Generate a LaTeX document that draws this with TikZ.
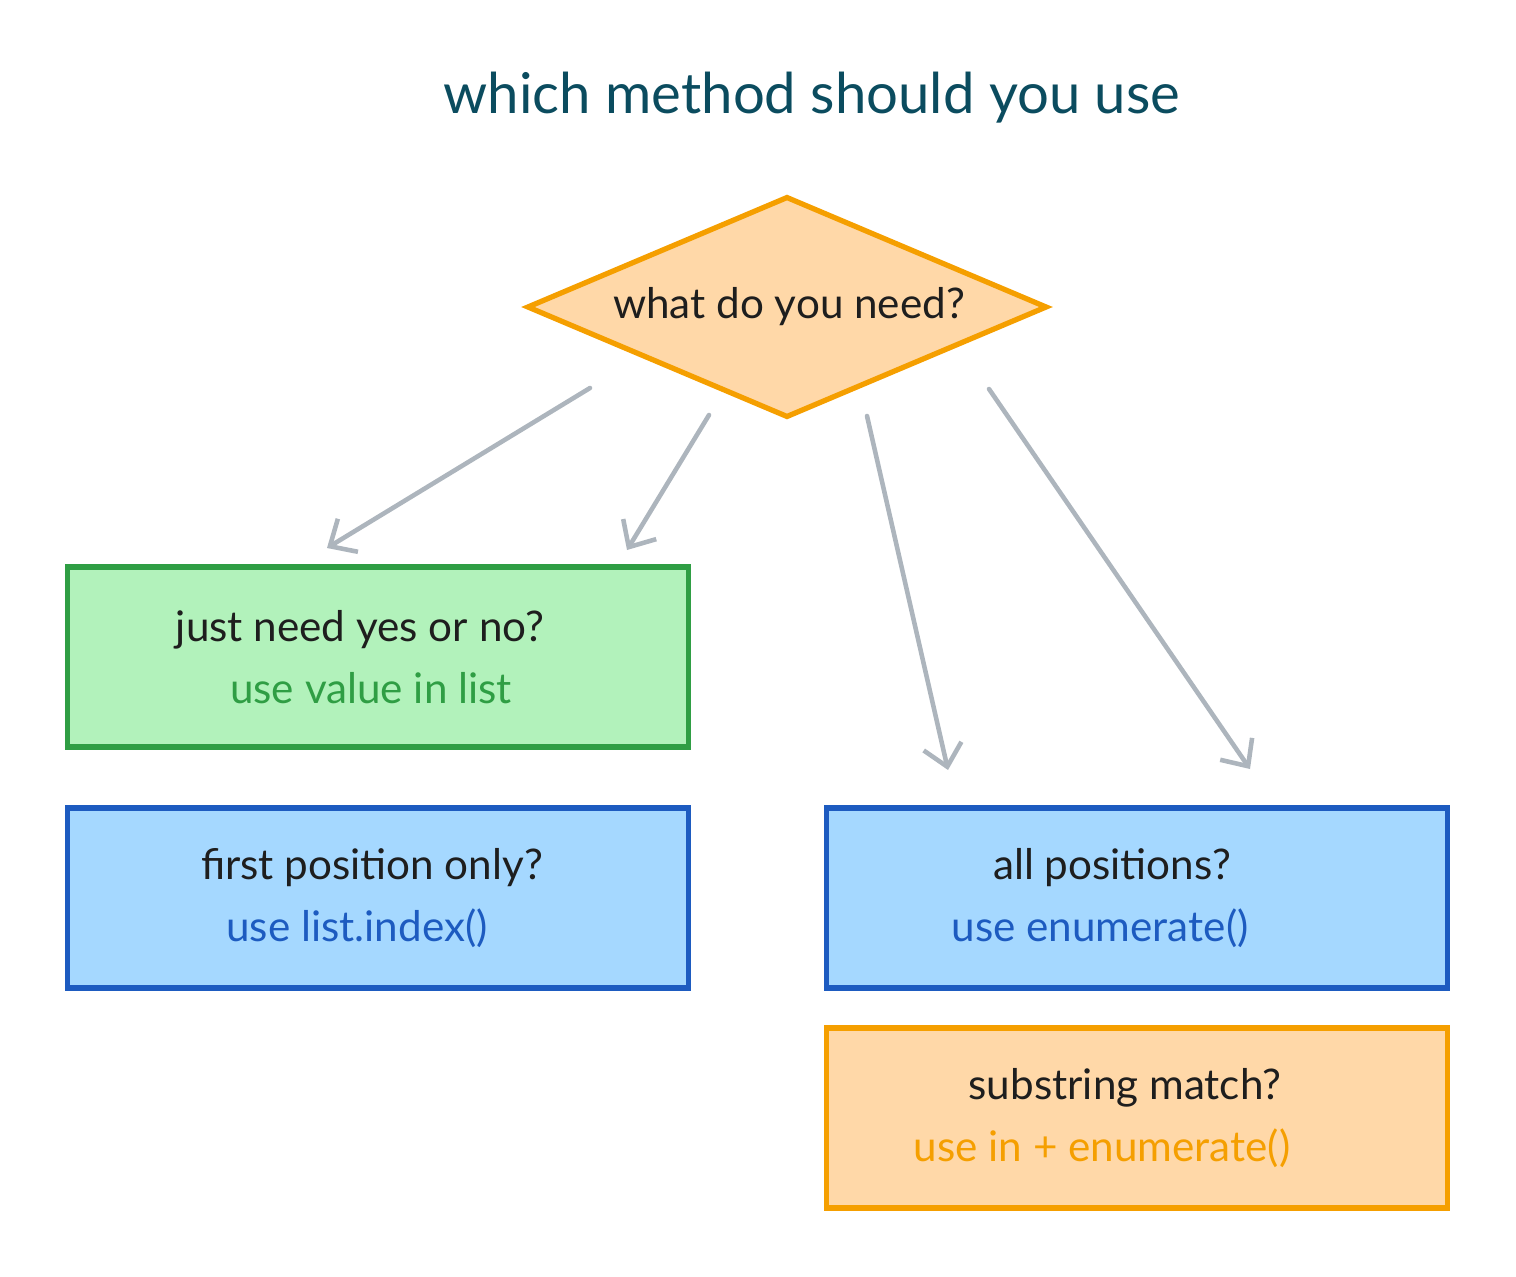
\documentclass[tikz,border=0pt]{standalone}
\usepackage{fontspec}
\setmainfont{Lato}
\usetikzlibrary{shapes.geometric,arrows.meta}

\definecolor{titleteal}{HTML}{0B4C5F}
\definecolor{linkgray}{HTML}{ADB5BD}
\definecolor{greenline}{HTML}{2F9E44}
\definecolor{greenfill}{HTML}{B2F2BB}
\definecolor{blueline}{HTML}{1D5BC0}
\definecolor{bluefill}{HTML}{A5D8FF}
\definecolor{orangeline}{HTML}{F59F00}
\definecolor{orangefill}{HTML}{FFD8A8}
\definecolor{inkblack}{HTML}{1E1E1E}

\tikzset{
  box/.style={draw, line width=1.5pt, minimum width=6.21cm, minimum height=1.8cm, inner sep=0pt},
  question/.style={text=inkblack, font=\fontsize{12}{14}\selectfont},
  answer/.style={font=\fontsize{12}{14}\selectfont},
  link/.style={draw=linkgray, line width=1.3pt, line cap=round, -{Straight Barb[length=6pt,width=11pt,line width=1.3pt]}}
}

\begin{document}
\begin{tikzpicture}[x=0.01cm, y=-0.01cm]
\useasboundingbox (0,0) rectangle (1516,1276);

\node[text=titleteal, font=\fontsize{16}{19}\selectfont] (title) at (812,98) {which method should you use};

\node[diamond, draw=orangeline, fill=orangefill, line width=1.5pt, aspect=2.35,
      minimum width=5.2cm, minimum height=2.21cm, inner sep=1pt] (need) at (787,307) {};
\node[question] (needq) at (789,307) {what do you need?};

\node[box, draw=greenline, fill=greenfill] (yesno) at (378,657) {};
\node[question] (yesnoq) at (360,630) {just need yes or no?};
\node[answer, text=greenline] (yesnoa) at (371,688) {use value in list};

\node[box, draw=blueline, fill=bluefill] (first) at (378,898) {};
\node[question] (firstq) at (372,868) {first position only?};
\node[answer, text=blueline] (firsta) at (357,928) {use list.index()};

\node[box, draw=blueline, fill=bluefill] (allpos) at (1137,898) {};
\node[question] (allposq) at (1112,868) {all positions?};
\node[answer, text=blueline] (allposa) at (1100,928) {use enumerate()};

\node[box, draw=orangeline, fill=orangefill] (substr) at (1137,1118) {};
\node[question] (substrq) at (1125,1088) {substring match?};
\node[answer, text=orangeline] (substra) at (1102,1148) {use in + enumerate()};

\coordinate (from1) at (590,388);
\coordinate (to1) at (327,548);
\coordinate (from2) at (709,415);
\coordinate (to2) at (627,550);
\coordinate (from3) at (867,416);
\coordinate (to3) at (948,770);
\coordinate (from4) at (989,389);
\coordinate (to4) at (1250,769);

\draw[link] (from1) -- (to1);
\draw[link] (from2) -- (to2);
\draw[link] (from3) -- (to3);
\draw[link] (from4) -- (to4);
\end{tikzpicture}
\end{document}
